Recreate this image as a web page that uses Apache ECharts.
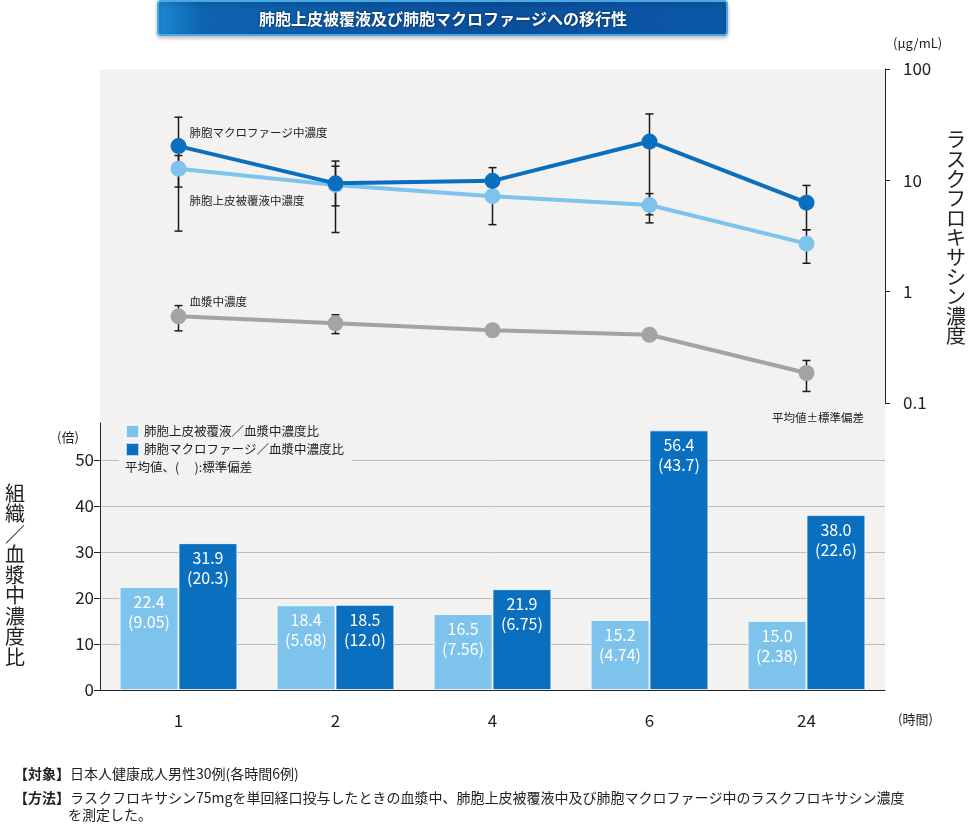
<!DOCTYPE html>
<html>
<head>
<meta charset="utf-8">
<script src="https://cdn.jsdelivr.net/npm/echarts@6/dist/echarts.min.js"></script>
<style>
html, body { margin: 0; padding: 0; background: #fff; }
#chart { width: 969px; height: 824px; }
</style>
</head>
<body>
<div id="chart"></div>
<script>
const FONT = '"Noto Sans CJK JP", "Noto Sans", sans-serif'

const hours = ['1', '2', '4', '6', '24']

// top panel: concentration, ug/mL (log axis), mean with SD range
const macConc = [20.3, 9.4, 9.9, 22.3, 6.3]
const macLow = [3.5, 3.4, 6.7, 4.9, 3.6]
const macHigh = [36.9, 14.9, 13.0, 39.5, 9.0]
const elfConc = [12.7, 9.1, 7.2, 6.0, 2.7]
const elfLow = [8.7, 5.9, 4.0, 4.15, 1.8]
const elfHigh = [16.7, 13.4, 10.4, 7.6, 3.6]
const plasmaConc = [0.60, 0.52, 0.45, 0.41, 0.186]
const plasmaLow = [0.445, 0.42, 0.42, 0.38, 0.127]
const plasmaHigh = [0.75, 0.62, 0.48, 0.44, 0.241]

// bottom panel: tissue / plasma ratio, mean and SD
const elfRatio = [22.4, 18.4, 16.5, 15.2, 15.0]
const elfRatioSd = [9.05, 5.68, 7.56, 4.74, 2.38]
const macRatio = [31.9, 18.5, 21.9, 56.4, 38.0]
const macRatioSd = [20.3, 12.0, 6.75, 43.7, 22.6]

const LIGHT = '#7dc3ec'
const DARK = '#0a6fbf'
const GRAY = '#a3a3a3'
const BG = '#f3f2f0'

function errorBars(low, high) {
    return low.map((lo, i) => [i, lo, high[i]])
}

function renderErrorBar(params, api) {
    const x = api.value(0)
    const lo = api.coord([x, api.value(1)])
    const hi = api.coord([x, api.value(2)])
    const w = 4
    const style = {stroke: '#1a1a1a', lineWidth: 1.5}
    return {
        type: 'group',
        children: [
            {type: 'line', shape: {x1: lo[0], y1: lo[1], x2: hi[0], y2: hi[1]}, style},
            {type: 'line', shape: {x1: lo[0] - w, y1: lo[1], x2: lo[0] + w, y2: lo[1]}, style},
            {type: 'line', shape: {x1: hi[0] - w, y1: hi[1], x2: hi[0] + w, y2: hi[1]}, style}
        ]
    }
}

function firstPointLabel(values, offsetY) {
    return values.map((v, i) => i !== 0 ? v : {
        value: v,
        label: {
            show: true, position: 'right', distance: 3, offset: [0, offsetY],
            formatter: '{a}', fontSize: 11.5, color: '#222', fontFamily: FONT
        }
    })
}

function ratioLabel(values, sds) {
    return {
        show: true, position: 'insideTop', distance: 5,
        color: '#fff', fontSize: 16, lineHeight: 20, fontFamily: FONT,
        formatter: p => values[p.dataIndex].toPrecision(3) + '\n(' + sds[p.dataIndex].toPrecision(3) + ')'
    }
}

function lineSeries(name, values, color, offsetY) {
    return {
        name, type: 'line', xAxisIndex: 0, yAxisIndex: 0, z: 3,
        data: firstPointLabel(values, offsetY),
        symbol: 'circle', symbolSize: 16,
        lineStyle: {color, width: 4},
        itemStyle: {color},
        emphasis: {disabled: true}
    }
}

function errorSeries(low, high) {
    return {
        type: 'custom', xAxisIndex: 0, yAxisIndex: 0, z: 2,
        renderItem: renderErrorBar,
        encode: {x: 0, y: [1, 2]},
        data: errorBars(low, high),
        silent: true
    }
}

const ELF_RATIO = '肺胞上皮被覆液／血漿中濃度比'
const MAC_RATIO = '肺胞マクロファージ／血漿中濃度比'

const verticalText = s => s.split('').join('\n')

const chart = echarts.init(document.getElementById('chart'))

chart.setOption({
    animation: false,
    textStyle: {fontFamily: FONT},
    grid: [
        {left: 100, right: 84, top: 69, height: 334},
        {left: 100, right: 84, top: 423, bottom: 134}
    ],
    xAxis: [
        {type: 'category', gridIndex: 0, data: hours, show: false},
        {
            type: 'category', gridIndex: 1, data: hours,
            axisLine: {lineStyle: {color: '#222', width: 1}},
            axisTick: {length: 6, lineStyle: {color: '#222'}},
            axisLabel: {fontSize: 17, color: '#222', margin: 22, fontFamily: FONT}
        }
    ],
    yAxis: [
        {
            type: 'log', gridIndex: 0, logBase: 10, min: 0.1, max: 100, position: 'right',
            axisLine: {show: true, lineStyle: {color: '#222', width: 1}},
            axisTick: {show: true, length: 5, lineStyle: {color: '#222'}},
            minorTick: {show: false},
            splitLine: {show: false},
            axisLabel: {fontSize: 17, color: '#222', margin: 18, fontFamily: FONT}
        },
        {
            type: 'value', gridIndex: 1, min: 0, max: 58, interval: 10,
            axisLine: {show: true, lineStyle: {color: '#222', width: 1}},
            axisTick: {show: true, length: 6, lineStyle: {color: '#222'}},
            splitLine: {show: true, showMaxLine: false, lineStyle: {color: '#bcbcbc', width: 1}},
            axisLabel: {fontSize: 17, color: '#222', margin: 6, showMaxLabel: false, fontFamily: FONT}
        }
    ],
    legend: {
        data: [ELF_RATIO, MAC_RATIO],
        orient: 'vertical', left: 119, top: 418,
        icon: 'rect', itemWidth: 13, itemHeight: 13, itemGap: 3,
        padding: [6, 8, 22, 6],
        backgroundColor: BG,
        selectedMode: false,
        textStyle: {fontSize: 12.5, color: '#222', fontFamily: FONT}
    },
    series: [
        errorSeries(plasmaLow, plasmaHigh),
        errorSeries(elfLow, elfHigh),
        errorSeries(macLow, macHigh),
        lineSeries('血漿中濃度', plasmaConc, GRAY, -15),
        lineSeries('肺胞上皮被覆液中濃度', elfConc, LIGHT, 32),
        lineSeries('肺胞マクロファージ中濃度', macConc, DARK, -13),
        {
            name: ELF_RATIO, type: 'bar', xAxisIndex: 1, yAxisIndex: 1,
            data: elfRatio, barGap: '0%', barCategoryGap: '25%',
            itemStyle: {color: LIGHT, borderColor: 'rgba(255,255,255,0.7)', borderWidth: 1},
            label: ratioLabel(elfRatio, elfRatioSd),
            emphasis: {disabled: true}
        },
        {
            name: MAC_RATIO, type: 'bar', xAxisIndex: 1, yAxisIndex: 1,
            data: macRatio, barGap: '0%', barCategoryGap: '25%',
            itemStyle: {color: DARK, borderColor: 'rgba(255,255,255,0.7)', borderWidth: 1},
            label: ratioLabel(macRatio, macRatioSd),
            emphasis: {disabled: true}
        }
    ],
    graphic: [
        // panel background
        {type: 'rect', z: -10, silent: true, shape: {x: 100, y: 69, width: 785, height: 621}, style: {fill: BG}},
        // title box
        {
            type: 'rect', z: 10,
            shape: {x: 158, y: 1, width: 569, height: 34, r: 3},
            style: {
                fill: new echarts.graphic.LinearGradient(0, 0, 1, 0, [
                    {offset: 0, color: '#1c8bd2'},
                    {offset: 0.08, color: '#0e63b0'},
                    {offset: 0.6, color: '#0a4f9c'},
                    {offset: 1, color: '#0c58a8'}
                ]),
                stroke: '#4aa8e2', lineWidth: 2,
                shadowColor: 'rgba(0,0,0,0.25)', shadowBlur: 4, shadowOffsetY: 2
            }
        },
        {
            type: 'text', z: 11, x: 443, y: 19,
            style: {
                text: '肺胞上皮被覆液及び肺胞マクロファージへの移行性',
                fill: '#fff', fontSize: 16, fontWeight: 'bold', fontFamily: FONT,
                align: 'center', verticalAlign: 'middle',
                textShadowColor: 'rgba(0,0,0,0.5)', textShadowBlur: 3
            }
        },
        {type: 'text', x: 893, y: 43, style: {text: '(μg/mL)', fill: '#222', fontSize: 13, fontFamily: FONT, verticalAlign: 'middle'}},
        {
            type: 'text', x: 956, y: 130,
            style: {text: verticalText('ラスクフロキサシン濃度'), fill: '#222', fontSize: 20, lineHeight: 19.6, fontFamily: FONT, align: 'center'}
        },
        {
            type: 'text', x: 15, y: 483,
            style: {text: verticalText('組織／血漿中濃度比'), fill: '#222', fontSize: 20, lineHeight: 20.5, fontFamily: FONT, align: 'center'}
        },
        {type: 'text', x: 772, y: 418, style: {text: '平均値±標準偏差', fill: '#222', fontSize: 11.5, fontFamily: FONT, verticalAlign: 'middle'}},
        {type: 'text', z: 10, x: 125, y: 467, style: {text: '平均値、(　 ):標準偏差', fill: '#222', fontSize: 12.5, fontFamily: FONT, verticalAlign: 'middle'}},
        {type: 'text', x: 57, y: 437, style: {text: '(倍)', fill: '#222', fontSize: 13, fontFamily: FONT, verticalAlign: 'middle'}},
        {type: 'text', x: 898, y: 719, style: {text: '(時間)', fill: '#222', fontSize: 13, fontFamily: FONT, verticalAlign: 'middle'}},
        {
            type: 'text', x: 14, y: 774,
            style: {
                text: '{b|【対象】}日本人健康成人男性30例(各時間6例)',
                fill: '#222', fontSize: 14, fontFamily: FONT, verticalAlign: 'middle',
                rich: {b: {fontWeight: 'bold', fontSize: 14, fontFamily: FONT}}
            }
        },
        {
            type: 'text', x: 14, y: 798,
            style: {
                text: '{b|【方法】}ラスクフロキサシン75mgを単回経口投与したときの血漿中、肺胞上皮被覆液中及び肺胞マクロファージ中のラスクフロキサシン濃度',
                fill: '#222', fontSize: 14, fontFamily: FONT, verticalAlign: 'middle',
                rich: {b: {fontWeight: 'bold', fontSize: 14, fontFamily: FONT}}
            }
        },
        {type: 'text', x: 68, y: 815, style: {text: 'を測定した。', fill: '#222', fontSize: 14, fontFamily: FONT, verticalAlign: 'middle'}}
    ]
})
</script>
</body>
</html>
